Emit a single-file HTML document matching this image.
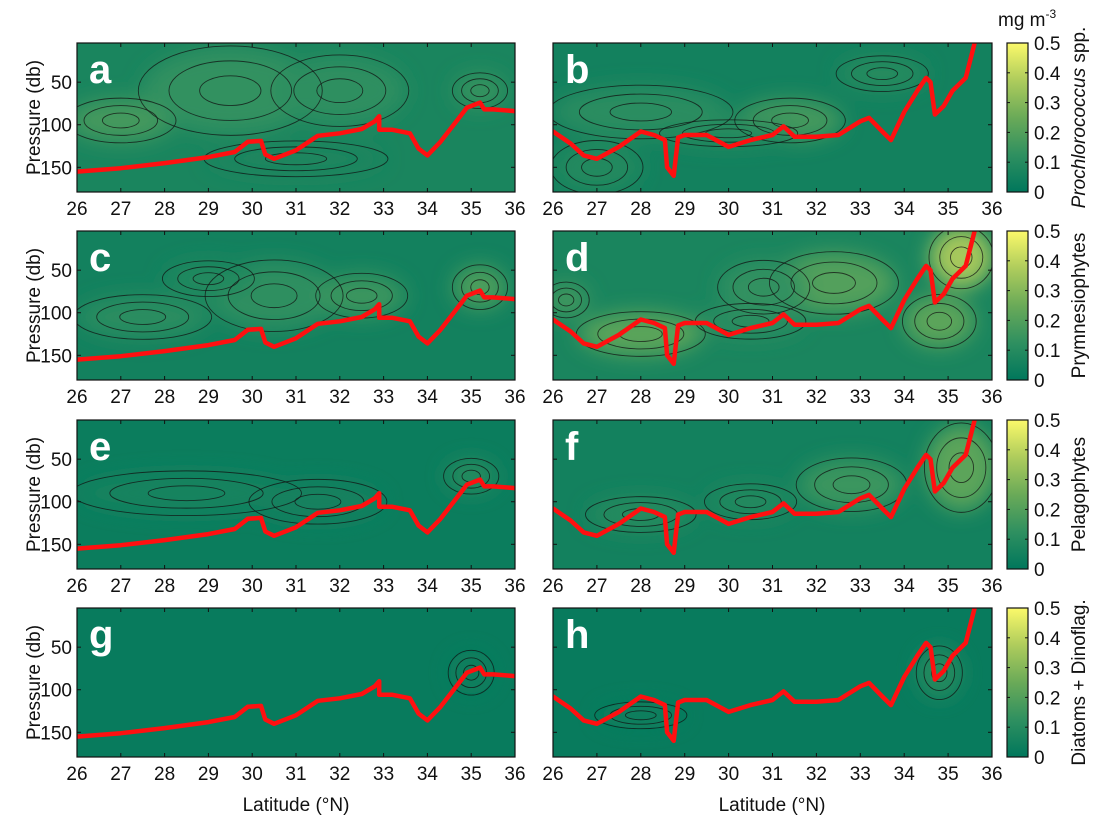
<!DOCTYPE html>
<html><head><meta charset="utf-8">
<style>
body{margin:0;background:#fff;}
svg{display:block;font-family:"Liberation Sans",sans-serif;}
.tk{font-size:19px;fill:#111;}
</style></head>
<body>
<svg id="fig" width="1105" height="832" viewBox="0 0 1105 832" xmlns="http://www.w3.org/2000/svg">
<defs>
<filter id="blur" x="-50%" y="-50%" width="200%" height="200%"><feGaussianBlur stdDeviation="10"/></filter>
<linearGradient id="cmap" x1="0" y1="1" x2="0" y2="0">
<stop offset="0" stop-color="#00775c"/>
<stop offset="0.25" stop-color="#2f9060"/>
<stop offset="0.5" stop-color="#6aaa58"/>
<stop offset="0.75" stop-color="#aecc5c"/>
<stop offset="1" stop-color="#fbf96a"/>
</linearGradient>
</defs>
<g id="root"></g>
</svg>
<script>
// latitude ticks and pressure ticks
const latTicks = [26,27,28,29,30,31,32,33,34,35,36];
const presTicks = [50,100,150];
const cbTicks = [0,0.1,0.2,0.3,0.4,0.5];
const cbLabels = ["Prochlorococcus spp.","Prymnesiophytes","Pelagophytes","Diatoms + Dinoflag."];
const panelLetters = [["a","b"],["c","d"],["e","f"],["g","h"]];
// red line left transect
const leftLat = [26,27,28,29,29.6,29.9,30.2,30.3,30.5,31,31.5,32,32.5,32.8,32.9,32.9,33.2,33.6,33.8,34,34.3,34.6,34.9,35.2,35.3,35.5,36];
const leftPres = [155,151,145,138,132,120,119,135,140,130,113,110,105,96,90,106,106,110,128,136,120,100,80,74,82,82,84];
// red line right transect
const rightLat = [26,26.4,26.7,27,27.5,28,28.3,28.55,28.6,28.75,28.85,29,29.5,30,30.5,31,31.25,31.5,32,32.5,33,33.2,33.5,33.7,34,34.3,34.5,34.6,34.7,34.9,35.1,35.4,35.6];
const rightPres = [108,122,136,140,126,108,112,118,150,160,115,112,112,126,118,112,102,114,114,112,96,92,108,118,85,60,45,50,88,78,60,45,5];
// lighter patches per panel: [lat, pres, rx(deg), ry(db), intensity 0..0.5]
const patchA = [[27,95,1.2,25,0.17],[29.5,60,2,50,0.13],[32,60,1.5,40,0.12],[35.2,60,0.6,20,0.14],[31,140,2,20,0.07]];
const patchB = [[28,85,2,30,0.11],[31.4,95,1.2,25,0.17],[33.5,40,1,20,0.1],[27,150,1,30,0.09],[30,110,1.5,15,0.1]];
const patchC = [[27.5,105,1.5,25,0.11],[30.5,80,1.5,40,0.12],[32.5,80,1,25,0.15],[35.2,70,0.6,25,0.19],[29,60,1,20,0.09]];
const patchD = [[28,125,1.4,25,0.22],[26.3,85,0.5,20,0.16],[32.4,65,1.4,35,0.2],[35.3,35,0.7,35,0.36],[34.8,110,0.8,30,0.22],[30.5,110,1.2,20,0.11],[30.8,70,1,30,0.13]];
const patchE = [[28.5,90,2.5,25,0.06],[35,70,0.6,20,0.1],[31.5,100,1.5,25,0.05]];
const patchF = [[28,115,1.2,20,0.1],[35.3,60,0.8,50,0.22],[32.8,80,1.2,30,0.15],[30.5,100,1,20,0.09]];
const patchG = [[35,80,0.5,25,0.04]];
const patchH = [[34.8,80,0.5,30,0.1],[28,130,1,15,0.04]];
const patches = [[patchA,patchB],[patchC,patchD],[patchE,patchF],[patchG,patchH]];
const baseLevel = [[0.07,0.05],[0.05,0.07],[0.03,0.05],[0.02,0.02]];

const NS="http://www.w3.org/2000/svg";
const root=document.getElementById('root');
function mk(tag,attrs,parent){const e=document.createElementNS(NS,tag);for(const k in attrs)e.setAttribute(k,attrs[k]);(parent||root).appendChild(e);return e;}
function cmap(v){
  const stops=[[0,[0,119,92]],[0.125,[47,144,96]],[0.25,[106,170,88]],[0.375,[174,204,92]],[0.5,[251,249,106]]];
  v=Math.max(0,Math.min(0.5,v));
  for(let i=0;i<stops.length-1;i++){const a=stops[i],b=stops[i+1];if(v<=b[0]){const t=(v-a[0])/(b[0]-a[0]);return 'rgb('+a[1].map((c,j)=>Math.round(c+(b[1][j]-c)*t)).join(',')+')';}}
  return 'rgb(251,249,106)';
}
const colX=[77,553], W=[438,439];
const rowY=[43,231,420,608], H=149;
const pMin=4, pMax=179;
for(let r=0;r<4;r++){
  for(let c=0;c<2;c++){
    const x0=colX[c], y0=rowY[r], w=W[c];
    const xs=lat=>x0+(lat-26)/10*w;
    const ys=p=>y0+(p-pMin)/(pMax-pMin)*H;
    const g=mk('g',{});
    
    
    const cid='clip'+r+c;
    const cp=mk('clipPath',{id:cid},g);mk('rect',{x:x0,y:y0,width:w,height:H},cp);
    const bg=mk('rect',{x:x0,y:y0,width:w,height:H,fill:cmap(baseLevel[r][c])},g);
    
    
    const pg=mk('g',{'clip-path':'url(#'+cid+')'},g);
    const bl=mk('g',{filter:'url(#blur)'},pg);
    patches[r][c].forEach(p=>{
      const e=mk('ellipse',{cx:xs(p[0]),cy:ys(p[1]),rx:p[2]/10*w,ry:p[3]/(pMax-pMin)*H,fill:cmap(p[4])},bl);
      
      
    });
    const cl=mk('g',{fill:'none',stroke:'#111','stroke-width':0.9,'stroke-opacity':0.75},pg);
    patches[r][c].forEach(p=>{
      for(let k=1;k<=3;k++){
        const e=mk('ellipse',{cx:xs(p[0]),cy:ys(p[1]),rx:p[2]/10*w*(0.35*k),ry:p[3]/(pMax-pMin)*H*(0.35*k)},cl);
        
        
      }
    });
    const la=c===0?leftLat:rightLat, pa=c===0?leftPres:rightPres;
    const pts=la.map((v,i)=>xs(v).toFixed(1)+','+ys(pa[i]).toFixed(1)).join(' ');
    const red=mk('polyline',{points:pts,fill:'none',stroke:'#ff1010','stroke-width':4.5,'stroke-linejoin':'round','stroke-linecap':'round'},pg);
    
    
    const lt=mk('text',{x:x0+12,y:y0+40,fill:'#fff','font-size':40,'font-weight':'bold'},g);
    lt.textContent=panelLetters[r][c];
    
    
    mk('rect',{x:x0,y:y0,width:w,height:H,fill:'none',stroke:'#111','stroke-width':1.2},g);
    latTicks.forEach(t=>{
      mk('line',{x1:xs(t),x2:xs(t),y1:y0+H,y2:y0+H-4,stroke:'#111'},g);
      mk('line',{x1:xs(t),x2:xs(t),y1:y0,y2:y0+4,stroke:'#111'},g);
      const tx=mk('text',{x:xs(t),y:y0+H+23,'text-anchor':'middle',class:'tk'},g);
      tx.textContent=t;
      
      
    });
    presTicks.forEach(t=>{
      mk('line',{x1:x0,x2:x0+4,y1:ys(t),y2:ys(t),stroke:'#111'},g);
      mk('line',{x1:x0+w,x2:x0+w-4,y1:ys(t),y2:ys(t),stroke:'#111'},g);
      if(c===0){
        const ty=mk('text',{x:x0-5,y:ys(t)+7,'text-anchor':'end',class:'tk'},g);
        ty.textContent=t;
        
        
      }
    });
    if(c===0){
      const yt=mk('text',{transform:'translate(40,'+(y0+H/2)+') rotate(-90)','text-anchor':'middle','font-size':19,fill:'#111'},g);
      yt.textContent='Pressure (db)';
      
      
    }
  }
  const cb=mk('g',{});
  
  
  const cx0=1007,cw=21,y0=rowY[r];
  mk('rect',{x:cx0,y:y0,width:cw,height:H,fill:'url(#cmap)',stroke:'#111','stroke-width':1.2},cb);
  cbTicks.forEach(t=>{
    const y=y0+H-t/0.5*H;
    mk('line',{x1:cx0,x2:cx0+3,y1:y,y2:y,stroke:'#111'},cb);
    mk('line',{x1:cx0+cw,x2:cx0+cw-3,y1:y,y2:y,stroke:'#111'},cb);
    const tx=mk('text',{x:1034,y:y+7,class:'tk'},cb);
    tx.textContent=t;
    
    
  });
  const lb=mk('text',{transform:'translate(1085,'+(y0+H/2)+') rotate(-90)','text-anchor':'middle','font-size':19,fill:'#111'},cb);
  if(r===0){
    const s1=mk('tspan',{'font-style':'italic'},lb);s1.textContent='Prochlorococcus';
    const s2=mk('tspan',{},lb);s2.textContent=' spp.';
  } else lb.textContent=cbLabels[r];
  
  
}
const u=mk('text',{x:998,y:26,'font-size':19,fill:'#111'});
u.innerHTML='mg m<tspan dy="-8" font-size="12">-3</tspan>';


[296,772].forEach(x=>{
  const t=mk('text',{x:x,y:811,'text-anchor':'middle','font-size':19,fill:'#111'});
  t.textContent='Latitude (°N)';
  
  
});
</script>
</body></html>
